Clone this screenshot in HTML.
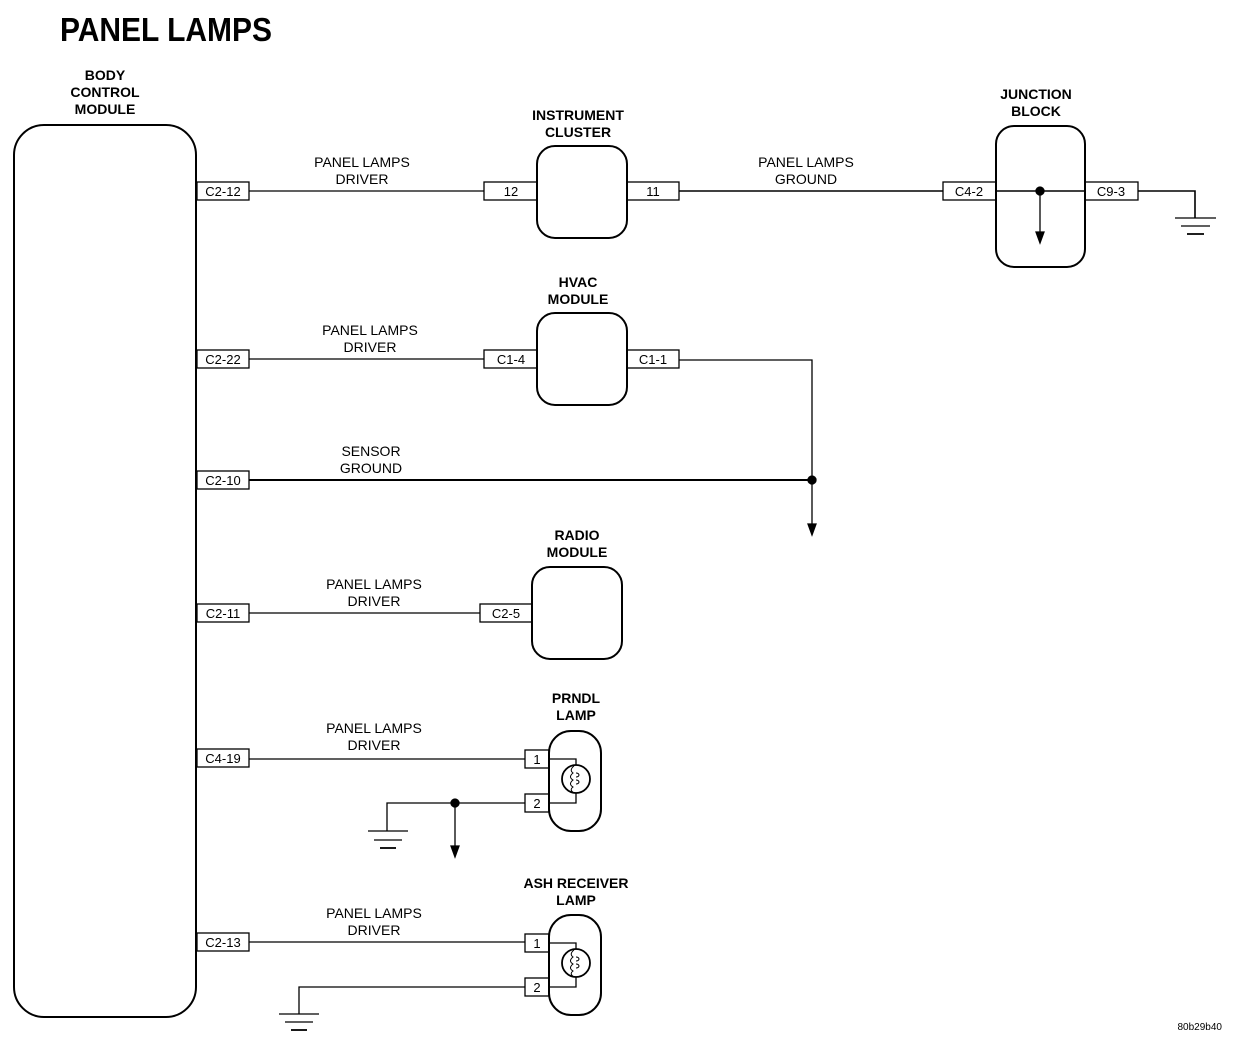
<!DOCTYPE html>
<html><head><meta charset="utf-8"><style>
html,body{margin:0;padding:0;background:#fff;}
svg{display:block;}
text{font-family:"Liberation Sans",Arial,sans-serif;fill:#000;}
.l{font-size:14px;text-anchor:middle;}
.b{font-size:14px;font-weight:bold;text-anchor:middle;}
.c{font-size:13px;text-anchor:middle;}
</style></head><body>
<svg width="1248" height="1048" viewBox="0 0 1248 1048" xmlns="http://www.w3.org/2000/svg" fill="none" stroke="#000" stroke-width="1.3">
<text x="60" y="41" style="font-size:33px;font-weight:bold;" textLength="212" lengthAdjust="spacingAndGlyphs" stroke="none">PANEL LAMPS</text>

<!-- BCM -->
<text class="b" x="105" y="80" stroke="none">BODY</text>
<text class="b" x="105" y="97" stroke="none">CONTROL</text>
<text class="b" x="105" y="114" stroke="none">MODULE</text>
<rect x="14" y="125" width="182" height="892" rx="30" stroke-width="2"/>

<!-- BCM connectors -->
<g>
<rect x="197" y="182" width="52" height="18"/><text class="c" x="223" y="196" stroke="none">C2-12</text>
<rect x="197" y="350" width="52" height="18"/><text class="c" x="223" y="364" stroke="none">C2-22</text>
<rect x="197" y="471" width="52" height="18"/><text class="c" x="223" y="485" stroke="none">C2-10</text>
<rect x="197" y="604" width="52" height="18"/><text class="c" x="223" y="618" stroke="none">C2-11</text>
<rect x="197" y="749" width="52" height="18"/><text class="c" x="223" y="763" stroke="none">C4-19</text>
<rect x="197" y="933" width="52" height="18"/><text class="c" x="223" y="947" stroke="none">C2-13</text>
</g>

<!-- Instrument cluster -->
<text class="l" x="362" y="167" stroke="none">PANEL LAMPS</text>
<text class="l" x="362" y="184" stroke="none">DRIVER</text>
<line x1="249" y1="191" x2="484" y2="191"/>
<text class="b" x="578" y="120" stroke="none">INSTRUMENT</text>
<text class="b" x="578" y="137" stroke="none">CLUSTER</text>
<rect x="537" y="146" width="90" height="92" rx="18" stroke-width="2"/>
<rect x="484" y="182" width="53" height="18"/><text class="c" x="511" y="196" stroke="none">12</text>
<rect x="627" y="182" width="52" height="18"/><text class="c" x="653" y="196" stroke="none">11</text>
<text class="l" x="806" y="167" stroke="none">PANEL LAMPS</text>
<text class="l" x="806" y="184" stroke="none">GROUND</text>
<line x1="679" y1="191" x2="943" y2="191" stroke-width="1.6"/>

<!-- Junction block -->
<text class="b" x="1036" y="99" stroke="none">JUNCTION</text>
<text class="b" x="1036" y="116" stroke="none">BLOCK</text>
<rect x="996" y="126" width="89" height="141" rx="18" stroke-width="2"/>
<rect x="943" y="182" width="53" height="18"/><text class="c" x="969" y="196" stroke="none">C4-2</text>
<rect x="1085" y="182" width="53" height="18"/><text class="c" x="1111" y="196" stroke="none">C9-3</text>
<line x1="996" y1="191" x2="1085" y2="191" stroke-width="1.6"/>
<circle cx="1040" cy="191" r="4" fill="#000"/>
<line x1="1040" y1="191" x2="1040" y2="234"/>
<path d="M1036 232 L1044 232 L1040 243 Z" fill="#000"/>
<polyline points="1138,191 1195,191 1195,218" stroke-width="1.6"/>
<line x1="1175" y1="218" x2="1216" y2="218"/>
<line x1="1181" y1="226" x2="1210" y2="226"/>
<line x1="1187" y1="234" x2="1204" y2="234" stroke-width="1.8"/>

<!-- HVAC -->
<text class="l" x="370" y="335" stroke="none">PANEL LAMPS</text>
<text class="l" x="370" y="352" stroke="none">DRIVER</text>
<line x1="249" y1="359" x2="484" y2="359"/>
<text class="b" x="578" y="287" stroke="none">HVAC</text>
<text class="b" x="578" y="304" stroke="none">MODULE</text>
<rect x="537" y="313" width="90" height="92" rx="18" stroke-width="2"/>
<rect x="484" y="350" width="53" height="18"/><text class="c" x="511" y="364" stroke="none">C1-4</text>
<rect x="627" y="350" width="52" height="18"/><text class="c" x="653" y="364" stroke="none">C1-1</text>
<polyline points="679,360 812,360 812,526"/>
<path d="M808 524 L816 524 L812 535 Z" fill="#000"/>

<!-- Sensor ground -->
<text class="l" x="371" y="456" stroke="none">SENSOR</text>
<text class="l" x="371" y="473" stroke="none">GROUND</text>
<line x1="249" y1="480" x2="812" y2="480" stroke-width="2"/>
<circle cx="812" cy="480" r="4" fill="#000"/>

<!-- Radio -->
<text class="l" x="374" y="589" stroke="none">PANEL LAMPS</text>
<text class="l" x="374" y="606" stroke="none">DRIVER</text>
<line x1="249" y1="613" x2="480" y2="613"/>
<text class="b" x="577" y="540" stroke="none">RADIO</text>
<text class="b" x="577" y="557" stroke="none">MODULE</text>
<rect x="532" y="567" width="90" height="92" rx="18" stroke-width="2"/>
<rect x="480" y="604" width="52" height="18"/><text class="c" x="506" y="618" stroke="none">C2-5</text>

<!-- PRNDL -->
<text class="l" x="374" y="733" stroke="none">PANEL LAMPS</text>
<text class="l" x="374" y="750" stroke="none">DRIVER</text>
<line x1="249" y1="759" x2="525" y2="759"/>
<text class="b" x="576" y="703" stroke="none">PRNDL</text>
<text class="b" x="576" y="720" stroke="none">LAMP</text>
<rect x="549" y="731" width="52" height="100" rx="22" stroke-width="2"/>
<rect x="525" y="750" width="24" height="18"/><text class="c" x="537" y="764" stroke="none">1</text>
<rect x="525" y="794" width="24" height="18"/><text class="c" x="537" y="808" stroke="none">2</text>
<polyline points="549,759 576,759 576,765"/>
<polyline points="549,803 576,803 576,793"/>
<circle cx="576" cy="779" r="14" stroke-width="1.8"/>
<path d="M574 766 Q569 770 573 773 Q568 777 573 780 Q568 784 573 787 Q569 790 574 793" stroke-width="1"/>
<path d="M576 773 a3 2 0 1 1 0 4 M576 780 a3 2 0 1 1 0 4" stroke-width="1"/>
<polyline points="525,803 387,803 387,831"/>
<circle cx="455" cy="803" r="4" fill="#000"/>
<line x1="455" y1="803" x2="455" y2="848"/>
<path d="M451 846 L459 846 L455 857 Z" fill="#000"/>
<line x1="368" y1="831" x2="408" y2="831"/>
<line x1="374" y1="840" x2="402" y2="840"/>
<line x1="380" y1="848" x2="396" y2="848" stroke-width="1.8"/>

<!-- Ash receiver -->
<text class="l" x="374" y="918" stroke="none">PANEL LAMPS</text>
<text class="l" x="374" y="935" stroke="none">DRIVER</text>
<line x1="249" y1="942" x2="525" y2="942"/>
<text class="b" x="576" y="888" stroke="none">ASH RECEIVER</text>
<text class="b" x="576" y="905" stroke="none">LAMP</text>
<rect x="549" y="915" width="52" height="100" rx="22" stroke-width="2"/>
<rect x="525" y="934" width="24" height="18"/><text class="c" x="537" y="948" stroke="none">1</text>
<rect x="525" y="978" width="24" height="18"/><text class="c" x="537" y="992" stroke="none">2</text>
<polyline points="549,943 576,943 576,949"/>
<polyline points="549,987 576,987 576,977"/>
<circle cx="576" cy="963" r="14" stroke-width="1.8"/>
<path d="M574 950 Q569 954 573 957 Q568 961 573 964 Q568 968 573 971 Q569 974 574 977" stroke-width="1"/>
<path d="M576 957 a3 2 0 1 1 0 4 M576 964 a3 2 0 1 1 0 4" stroke-width="1"/>
<polyline points="525,987 299,987 299,1014"/>
<line x1="279" y1="1014" x2="319" y2="1014"/>
<line x1="285" y1="1022" x2="313" y2="1022"/>
<line x1="291" y1="1030" x2="307" y2="1030" stroke-width="1.8"/>

<text x="1222" y="1030" style="font-size:10px;text-anchor:end;" stroke="none">80b29b40</text>
</svg>
</body></html>
